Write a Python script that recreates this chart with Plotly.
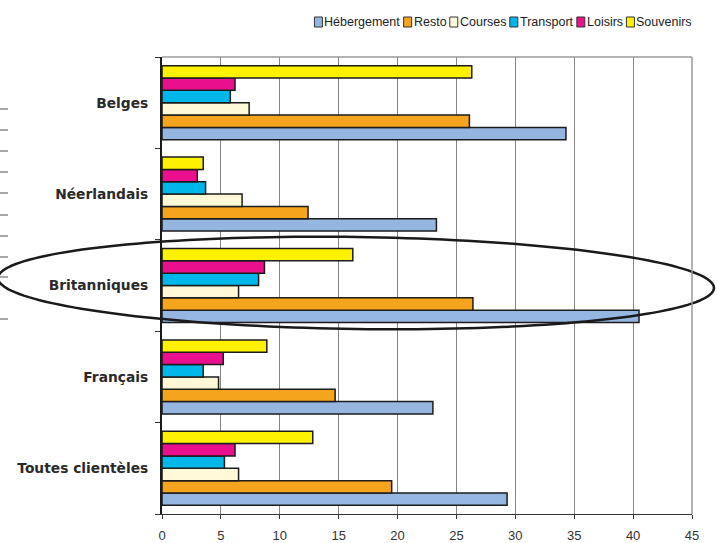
"""Dépenses par type de clientèle — barres horizontales groupées."""

import numpy as np
import plotly.graph_objects as go

CATEGORIES = ["Toutes clientèles", "Français", "Britanniques", "Néerlandais", "Belges"]

HEBERGEMENT = [29.3, 23.0, 40.5, 23.3, 34.3]
RESTO = [19.5, 14.7, 26.4, 12.4, 26.1]
COURSES = [6.5, 4.8, 6.5, 6.8, 7.4]
TRANSPORT = [5.3, 3.5, 8.2, 3.7, 5.8]
LOISIRS = [6.2, 5.2, 8.7, 3.0, 6.2]
SOUVENIRS = [12.8, 8.9, 16.2, 3.5, 26.3]

SERIES = [
    ("Hébergement", HEBERGEMENT, "#95B6E0"),
    ("Resto", RESTO, "#F5A51D"),
    ("Courses", COURSES, "#FFF9D8"),
    ("Transport", TRANSPORT, "#00B7EA"),
    ("Loisirs", LOISIRS, "#EA0F8C"),
    ("Souvenirs", SOUVENIRS, "#FFF200"),
]

X_TICKS = [0, 5, 10, 15, 20, 25, 30, 35, 40, 45]

W, H = 718, 543
# zone de tracé en pixels
PL, PR, PT, PB = 162, 692, 57, 514
FONT = "Liberation Sans, Arial, sans-serif"
LEG_SIZE = 12.5

# largeurs Arial (1/1000 em) pour caler la légende
ARIAL_W = {
    "H": 722, "é": 556, "b": 556, "e": 556, "r": 333, "g": 556, "m": 833,
    "n": 556, "t": 278, "R": 722, "s": 500, "o": 556, "C": 722, "u": 556,
    "T": 611, "a": 556, "p": 556, "L": 556, "i": 222, "S": 667, "v": 500,
}


def text_width(s, size):
    return sum(ARIAL_W.get(c, 556) for c in s) * size / 1000


def to_paper(px, py):
    return (np.asarray(px) - PL) / (PR - PL), (PB - np.asarray(py)) / (PB - PT)


fig = go.Figure()
for name, vals, color in SERIES:
    fig.add_trace(
        go.Bar(
            y=CATEGORIES, x=vals, name=name, orientation="h",
            marker=dict(color=color, line=dict(color="#1c1c1c", width=1.5)),
        )
    )

# ellipse autour des Britanniques
t = np.linspace(0, 2 * np.pi, 181)
cx, cy, a, b, th = 356, 283, 358, 46, np.arctan2(10, 716)
ex = cx + a * np.cos(t) * np.cos(th) - b * np.sin(t) * np.sin(th)
ey = cy + a * np.cos(t) * np.sin(th) + b * np.sin(t) * np.cos(th)
qx, qy = to_paper(ex, ey)
path = "M " + " L ".join(f"{x:.5f},{y:.5f}" for x, y in zip(qx, qy)) + " Z"
shapes = [dict(type="path", xref="paper", yref="paper", path=path,
               line=dict(color="#1a1a1a", width=2.5))]

# petits traits résiduels sur le bord gauche
for py in [109, 130, 151, 172, 193, 215, 236, 257, 277, 319]:
    sx, sy = to_paper([0, 8], [py, py])
    shapes.append(dict(type="line", xref="paper", yref="paper",
                       x0=sx[0], x1=sx[1], y0=sy[0], y1=sy[1],
                       line=dict(color="#8a8a8a", width=1.5)))

# cadre haut et droit
shapes.append(dict(type="line", xref="paper", yref="paper", x0=0, x1=1, y0=1, y1=1,
                   line=dict(color="#9a9a9a", width=1.5)))
shapes.append(dict(type="line", xref="paper", yref="paper", x0=1, x1=1, y0=0, y1=1,
                   line=dict(color="#9a9a9a", width=1.5)))

# légende compacte, calée à droite
annotations = []
sq_w, sq_h, gap_in, gap_out, leg_y = 8, 10, 2, 3.5, 22
total = sum(sq_w + gap_in + text_width(n, LEG_SIZE) for n, _, _ in SERIES)
total += gap_out * (len(SERIES) - 1)
x = PR - total
for name, _, color in SERIES:
    (x0, x1), (y0, y1) = to_paper([x, x + sq_w], [leg_y + sq_h / 2, leg_y - sq_h / 2])
    shapes.append(dict(type="rect", xref="paper", yref="paper",
                       x0=x0, x1=x1, y0=y0, y1=y1, fillcolor=color,
                       line=dict(color="#333333", width=1)))
    tx, ty = to_paper([x + sq_w + gap_in], [leg_y])
    annotations.append(dict(text=name, xref="paper", yref="paper", x=tx[0], y=ty[0],
                            xanchor="left", yanchor="middle", showarrow=False,
                            borderpad=0, xshift=-1,
                            font=dict(size=LEG_SIZE, color="#222222")))
    x += sq_w + gap_in + text_width(name, LEG_SIZE) + gap_out

fig.update_layout(
    width=W, height=H,
    margin=dict(l=PL, r=W - PR, t=PT, b=H - PB, pad=0, autoexpand=False),
    paper_bgcolor="white", plot_bgcolor="white",
    barmode="group", bargap=0.19, bargroupgap=0,
    font=dict(family=FONT, color="#333333"),
    showlegend=False,
    xaxis=dict(
        range=[0, 45], tickvals=X_TICKS, showgrid=True, gridcolor="#858585",
        gridwidth=1, showline=True, linecolor="#333333", linewidth=1,
        ticks="outside", ticklen=4, tickcolor="#333333",
        tickfont=dict(size=13, color="#333333"), zeroline=False,
        ticklabelstandoff=5, automargin=False,
    ),
    yaxis=dict(
        categoryorder="array", categoryarray=CATEGORIES,
        showline=True, linecolor="#1a1a1a", linewidth=2,
        ticks="outside", tickson="boundaries", ticklen=5, tickcolor="#333333",
        tickfont=dict(family="DejaVu Sans, sans-serif", size=13.8,
                      color="#2a2a2a", weight="bold"),
        ticklabelstandoff=9, automargin=False,
    ),
    shapes=shapes,
    annotations=annotations,
)

fig.write_html("out.html", config={"displayModeBar": False},
               post_script="document.body.style.margin='0';")
